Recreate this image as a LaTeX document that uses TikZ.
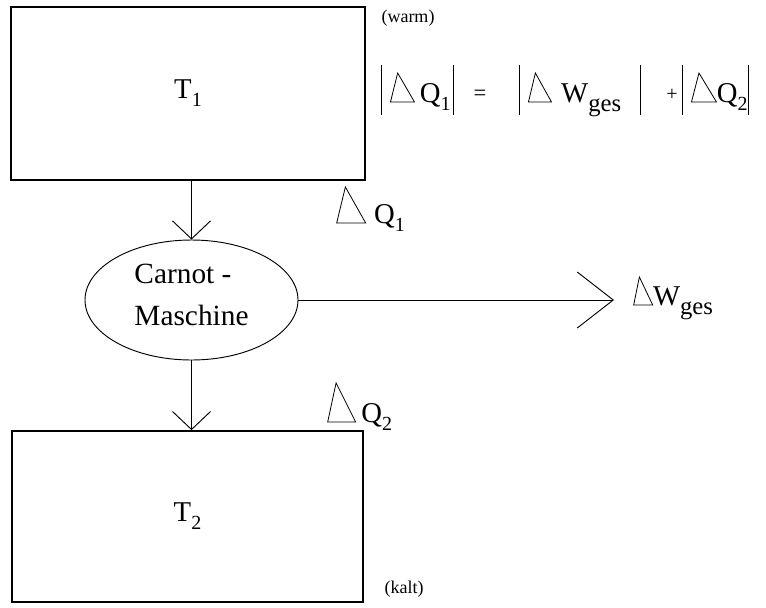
\documentclass[tikz,border=0pt]{standalone}
\usepackage{fontspec}
\setmainfont{Liberation Serif}
\usetikzlibrary{arrows.meta, shapes.geometric}
\newcommand{\dreieck}[2]{\tikz[x=1pt, y=1pt, baseline=0pt, line width=0.6pt]\draw (0,0) -- (0.3*#1,#2) -- (#1,0) -- cycle;}
\newcommand{\tief}[1]{\raisebox{-6pt}{\fontsize{15}{15}\selectfont #1}}
\newcommand{\ges}{\raisebox{-7pt}{\fontsize{18.5}{18}\selectfont ges}}
\newcommand{\strich}{\rule[-9.75pt]{0.6pt}{37.5pt}}

\begin{document}
\begin{tikzpicture}[x=0.75pt, y=-0.75pt, every node/.style={font=\fontsize{21.5}{24}\selectfont}]
    \tikzset{
      reservoir/.style={draw, line width=1.3pt, inner sep=0pt},
      maschine/.style={draw, ellipse, line width=0.7pt, inner sep=0pt, minimum width=159.75pt, minimum height=90pt, align=left, font=\fontsize{22}{31}\selectfont},
      fluss/.style={-{Straight Barb[length=13.5pt, width=28.5pt]}, line width=0.7pt},
      arbeit/.style={-{Straight Barb[length=27pt, width=42pt]}, line width=0.7pt},
      klein/.style={font=\fontsize{13.5}{16}\selectfont}
    }
    \useasboundingbox (0,0) rectangle (766,607);
    \node[reservoir, minimum width=265.5pt, minimum height=129.75pt] (t1box) at (188,93.5) {T\tief{1}};
    \node[reservoir, minimum width=263.25pt, minimum height=128.25pt] (t2box) at (187.5,516.5) {T\tief{2}};
    \node[maschine] (carnot) at (191.5,300) {Carnot -\\Maschine\rule[-8pt]{0pt}{8pt}};
    \node[klein] (warm) at (408,18) {(warm)};
    \node[klein] (kalt) at (404,589) {(kalt)};
    \coordinate (wtip) at (614,300);
    \draw[fluss] (t1box.south -| carnot.north) -- (carnot.north);
    \draw[fluss] (carnot.south) -- (carnot.south |- t2box.north);
    \draw[arbeit] (carnot.east) -- (wtip);
    \node[anchor=base west, inner sep=0pt] (dq1) at (336,223) {\dreieck{21.75}{27}\hspace{6pt}Q\tief{1}};
    \node[anchor=base west, inner sep=0pt] (dq2) at (327,422) {\dreieck{21}{29.25}\hspace{4pt}Q\tief{2}};
    \node[anchor=base west, inner sep=0pt] (dw) at (633,305) {\dreieck{14.25}{21}W\ges};
    \node[anchor=base west, inner sep=0pt] (betrq1) at (381,102) {\strich\hspace{6pt}\dreieck{18}{21.75}\hspace{3.75pt}Q\tief{1}\hspace{2pt}\strich};
    \node[anchor=base, inner sep=0pt, font=\fontsize{17}{18}\selectfont] (gleich) at (480,100) {=};
    \node[anchor=base west, inner sep=0pt] (betrw) at (519,102) {\strich\hspace{6pt}\dreieck{17.25}{21.75}\hspace{7pt}W\ges\hspace{14pt}\strich};
    \node[anchor=base, inner sep=0pt, font=\fontsize{15}{18}\selectfont] (plus) at (672,100) {+};
    \node[anchor=base west, inner sep=0pt] (betrq2) at (682,102) {\strich\hspace{6pt}\dreieck{18.75}{21.75}Q\tief{2}\strich};
  \end{tikzpicture}
\end{document}
